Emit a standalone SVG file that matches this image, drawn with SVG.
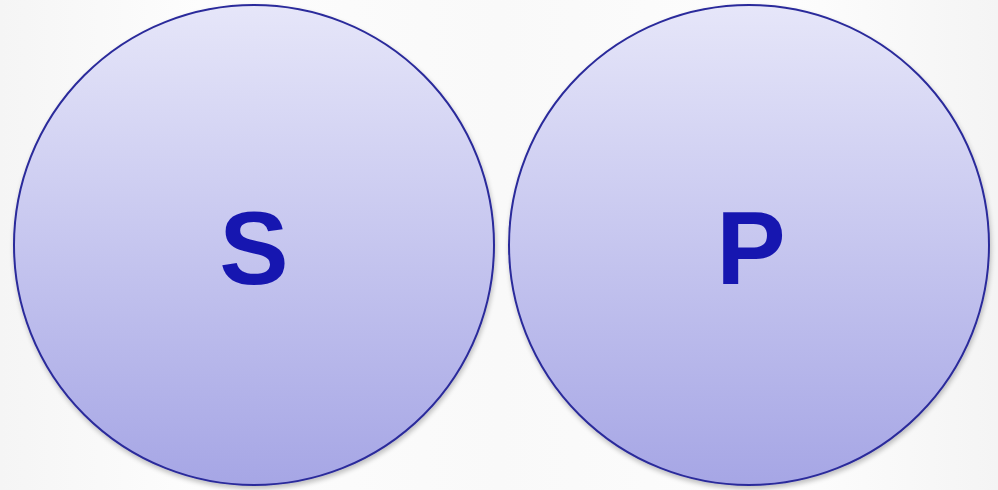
<svg xmlns="http://www.w3.org/2000/svg" width="998" height="490" viewBox="0 0 998 490">
<defs>
<linearGradient id="fill" x1="0" y1="0" x2="0" y2="1">
<stop offset="0" stop-color="#e6e6f9"/>
<stop offset="1" stop-color="#a6a6e5"/>
</linearGradient>
<linearGradient id="bg" x1="0" y1="0" x2="1" y2="0">
<stop offset="0" stop-color="#f5f5f5"/>
<stop offset="0.2" stop-color="#fdfdfd"/>
<stop offset="0.5" stop-color="#f9f9f9"/>
<stop offset="0.8" stop-color="#fdfdfd"/>
<stop offset="1" stop-color="#f4f4f4"/>
</linearGradient>
<filter id="sh" x="-10%" y="-10%" width="120%" height="120%">
<feGaussianBlur in="SourceAlpha" stdDeviation="2.5"/>
<feOffset dx="1" dy="3"/>
<feComponentTransfer><feFuncA type="linear" slope="0.25"/></feComponentTransfer>
<feMerge><feMergeNode/><feMergeNode in="SourceGraphic"/></feMerge>
</filter>
</defs>
<style>
.c{fill:url(#fill);stroke:#2b2b9b;stroke-width:2;filter:url(#sh)}
.t{font-family:"Liberation Sans",Arial,sans-serif;font-weight:bold;font-size:104px;fill:#1616b0;text-anchor:middle}
</style>
<rect width="998" height="490" fill="url(#bg)"/>
<g id="node-s">
<circle class="c" cx="254" cy="245" r="240"/>
<text class="t" x="254" y="284">S</text>
</g>
<g id="node-p">
<circle class="c" cx="749" cy="245" r="240"/>
<text class="t" x="751" y="284">P</text>
</g>
<g id="connectors"/>
</svg>
